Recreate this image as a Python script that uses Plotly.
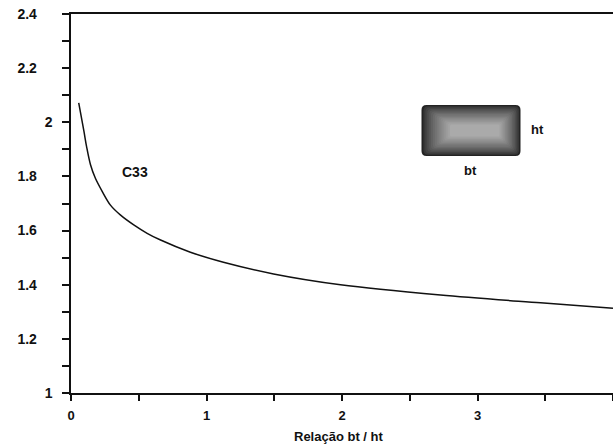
import plotly.graph_objects as go

# Data
ratio_bt_ht = [0.057, 0.095, 0.115, 0.144, 0.180, 0.231, 0.291, 0.366, 0.463, 0.562,
               0.661, 0.881, 1.125, 1.495, 1.989, 2.727, 3.465, 4.000]
c33 = [2.072, 1.968, 1.910, 1.843, 1.793, 1.744, 1.694, 1.657, 1.621, 1.590,
       1.565, 1.520, 1.483, 1.440, 1.400, 1.362, 1.333, 1.313]

x_tickvals = [0, 1, 2, 3, 4]
x_ticktext = ["0", "1", "2", "3", "4"]
y_tickvals = [1, 1.2, 1.4, 1.6, 1.8, 2, 2.2, 2.4]
y_ticktext = ["1", "1.2", "1.4", "1.6", "1.8", "2", "2.2", "2.4"]
series_label = "C33"
x_title = "Relação bt / ht"

FONT = "Liberation Sans, Arial, sans-serif"
pad = "<span style='color:rgba(0,0,0,0)'>00</span>"
y_ticktext_fmt = [t if "." not in t else t + pad for t in y_ticktext]

PXX = 135.5   # pixels per x unit (for placing decorations)
PXY = 270.7   # pixels per y unit

fig = go.Figure()
fig.add_trace(go.Scatter(
    x=ratio_bt_ht, y=c33, mode="lines",
    line=dict(color="#111111", width=1.5, shape="spline", smoothing=0.9),
    showlegend=False, hoverinfo="skip",
))


def rounded_rect(x0, y0, x1, y1, rx, ry):
    return (f"M {x0+rx},{y0} L {x1-rx},{y0} Q {x1},{y0} {x1},{y0+ry} "
            f"L {x1},{y1-ry} Q {x1},{y1} {x1-rx},{y1} L {x0+rx},{y1} "
            f"Q {x0},{y1} {x0},{y1-ry} L {x0},{y0+ry} Q {x0},{y0} {x0+rx},{y0} Z")


def dx(px):
    return (px - 70.5) / PXX


def dy(py):
    return 2.4 - (py - 14) / PXY


# decorative section sketch (gradient rectangle)
X0, X1, Y0, Y1 = dx(421), dx(520), dy(156), dy(105)
px_x = 1 / PXX
px_y = 1 / PXY
layers = 16
shapes = []
for i in range(layers):
    t = i / (layers - 1)
    g = int(35 + (t ** 0.7) * (170 - 35))
    col = f"rgb({g},{g},{g})"
    insL = i * 1.9 * px_x
    insR = i * 1.4 * px_x
    insY = i * 1.3 * px_y
    r = max(5 - i * 0.25, 1.5)
    shapes.append(dict(type="path",
                       path=rounded_rect(X0 + insL, Y0 + insY, X1 - insR, Y1 - insY,
                                         r * px_x, r * px_y),
                       xref="x", yref="y", fillcolor=col, line=dict(width=0),
                       layer="above"))

annotations = [
    dict(x=dx(134), y=dy(172), xref="x", yref="y",
         text=series_label, showarrow=False,
         font=dict(family=FONT, size=14, color="#111111", weight="bold")),
    dict(x=dx(537), y=dy(129), xref="x", yref="y",
         text="ht", showarrow=False,
         font=dict(family=FONT, size=13, color="#111111", weight="bold")),
    dict(x=dx(470), y=dy(170), xref="x", yref="y",
         text="bt", showarrow=False,
         font=dict(family=FONT, size=13, color="#111111", weight="bold")),
    # x-axis title
    dict(x=dx(338), y=-(436 - 393) / 379, xref="x", yref="paper",
         xanchor="center", yanchor="middle", text=x_title, showarrow=False,
         font=dict(family=FONT, size=13, color="#111111", weight="bold")),
]

fig.update_layout(
    width=613, height=446,
    margin=dict(l=71, r=0, t=14, b=53, autoexpand=False),
    paper_bgcolor="white", plot_bgcolor="white",
    shapes=shapes, annotations=annotations,
    xaxis=dict(
        range=[0, 4.0], tickvals=x_tickvals, ticktext=x_ticktext,
        showline=True, linecolor="#111111", linewidth=1.5, mirror=True,
        ticks="outside", ticklen=6, tickcolor="#111111", tickwidth=1.5,
        minor=dict(dtick=0.5, ticks="outside", ticklen=6, tickcolor="#111111", tickwidth=1.5),
        showgrid=False, zeroline=False, automargin=False,
        ticklabelstandoff=4,
        tickfont=dict(family=FONT, size=13, color="#111111", weight="bold"),
    ),
    yaxis=dict(
        range=[1, 2.4], tickvals=y_tickvals, ticktext=y_ticktext_fmt,
        showline=True, linecolor="#111111", linewidth=1.5, mirror=False,
        ticks="outside", ticklen=7, tickcolor="#111111", tickwidth=1.5,
        minor=dict(dtick=0.1, ticks="outside", ticklen=7, tickcolor="#111111", tickwidth=1.5),
        showgrid=False, zeroline=False, automargin=False,
        ticklabelstandoff=7,
        tickfont=dict(family=FONT, size=14, color="#111111", weight="bold"),
    ),
)

fig.write_html("out.html", config={"displayModeBar": False},
               post_script="document.body.style.margin='0';document.body.style.overflow='hidden';")
